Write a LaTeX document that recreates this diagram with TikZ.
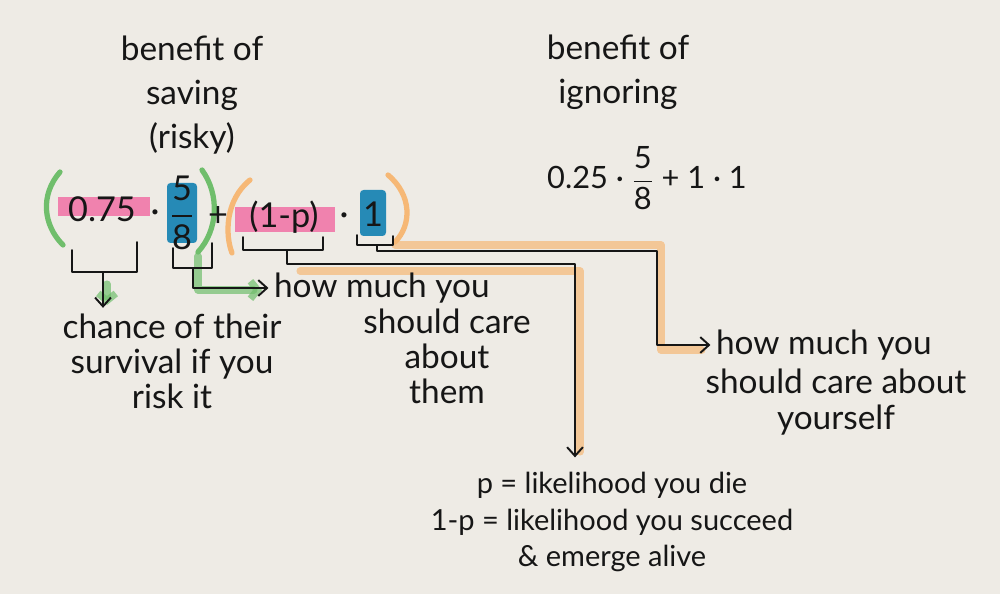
\documentclass[tikz,border=0pt]{standalone}
\usepackage{amsmath}
\usepackage{fontspec}
\setmainfont{Lato}
\usepackage{tikz}
\usetikzlibrary{arrows.meta,calc}

\definecolor{paper}{RGB}{238,235,229}
\definecolor{ink}{RGB}{22,22,22}
\definecolor{hlpink}{RGB}{240,130,174}
\definecolor{hlblue}{RGB}{38,138,182}
\definecolor{hlgreen}{RGB}{112,190,108}
\definecolor{hlorange}{RGB}{246,184,118}

\begin{document}
\begin{tikzpicture}[x=0.02cm, y=-0.02cm, color=ink,
    hand/.style={font=\fontsize{19}{20}\selectfont, inner sep=1pt},
    title/.style={font=\fontsize{19}{25}\selectfont, align=center, inner sep=1pt},
    big/.style={font=\fontsize{19.5}{24}\selectfont, inner sep=0pt},
    legendtext/.style={font=\fontsize{16.5}{21}\selectfont, align=center, inner sep=1pt},
    pen/.style={line width=1.1pt, line cap=round, line join=round},
    arr/.style={pen, -{Straight Barb[length=5pt,width=9pt]}},
    glow/.style={line width=4pt, line cap=round, line join=round, opacity=0.7},
    paren/.style={line width=3pt, line cap=round}]

    % Paper
    \fill[paper] (0,0) rectangle (1000,594);

    % Highlighter marks behind the formula
    \fill[hlpink] (58,197) rectangle (150,216);
    \fill[hlpink] (235,207) rectangle (335,232);
    \fill[hlblue, rounded corners=2pt] (167,183) rectangle (197,243);
    \fill[hlblue, rounded corners=2pt] (360,190) rectangle (386,236);

    % Coloured parentheses
    \draw[paren, hlgreen] (60,172) .. controls (40,195) and (43,225) .. (63,245);
    \draw[paren, hlgreen] (202,170) .. controls (220,195) and (218,230) .. (198,252);
    \draw[paren, hlorange] (250,180) .. controls (225,200) and (225,235) .. (232,253);
    \draw[paren, hlorange] (388,175) .. controls (412,195) and (412,225) .. (395,242);

    % Highlights along the connectors
    \draw[glow, hlgreen, -{Straight Barb[length=4pt,width=10pt]}] (107,284) -- (107,305);
    \draw[glow, hlgreen, -{Straight Barb[length=4pt,width=10pt]}] (198,256) |- (262,290);
    \draw[glow, hlorange] (300,271) -- (580,271) -- (580,452);
    \draw[glow, hlorange] (395,245) -- (661,245) -- (661,350) -- (702,350);

    % Titles
    \node[title] (savetitle) at (192,95) {benefit of\\saving\\(risky)};
    \node[title] (ignoretitle) at (618,72) {benefit of\\ignoring};
    \node[font=\fontsize{17.5}{20}\selectfont, anchor=base, inner sep=0pt] (ignoreformula)
        at (647,189) {0.25 · \(\dfrac{\text{5}}{\text{8}}\) + 1 · 1};

    % The formula for saving
    \node[big, anchor=base] (rate) at (102,222) {0.75};
    \node[big, anchor=base] (dotA) at (155,223) {·};
    \node[big] (fracA) at (182,213) {\(\dfrac{\text{5}}{\text{8}}\)};
    \node[big, anchor=base] (plus) at (218,227) {+};
    \node[big, anchor=base] (survive) at (284,228) {(1-p)};
    \node[big, anchor=base] (dotB) at (344,226) {·};
    \node[big, anchor=base] (self) at (373,227) {1};

    % Brackets under the terms
    \draw[pen] (72,250) -- (72,272) -- (137,272) -- (137,242);
    \draw[pen] (173,248) -- (173,268) -- (212,268) -- (212,243);
    \draw[pen] (243,237) -- (243,250) -- (323,250) -- (323,237);
    \draw[pen] (357,235) -- (357,245) -- (393,245) -- (393,236);
    \coordinate (stemA) at (103,272);
    \coordinate (stemB) at (193,268);
    \coordinate (stemC) at (287,250);
    \coordinate (stemD) at (377,245);
    \coordinate (bendC) at (575,264);
    \coordinate (bendD) at (657,251);

    % Explanations
    \node[hand, align=center] (chance) at (172,361) {chance of their\\survival if you\\risk it};
    \node[hand, anchor=west] (themcare1) at (272,288) {how much you};
    \node[hand, align=center] (themcare2) at (447,356) {should care\\about\\them};
    \node[hand, anchor=west] (selfcare1) at (714,345) {how much you};
    \node[hand, align=center] (selfcare2) at (836,402) {should care about\\yourself};
    \node[legendtext] (legend) at (612,522) {p = likelihood you die\\1-p = likelihood you succeed\\\& emerge alive};

    % Arrows
    \draw[arr, shorten >=2pt] (stemA) -- (stemA |- chance.north);
    \draw[arr, shorten >=2pt] (stemB) |- (themcare1.west);
    \draw[arr, shorten >=7pt] (stemC) |- (bendC) -- (bendC |- legend.north);
    \draw[arr, shorten >=2pt] (stemD) |- (bendD) |- (selfcare1.west);
\end{tikzpicture}
\end{document}
